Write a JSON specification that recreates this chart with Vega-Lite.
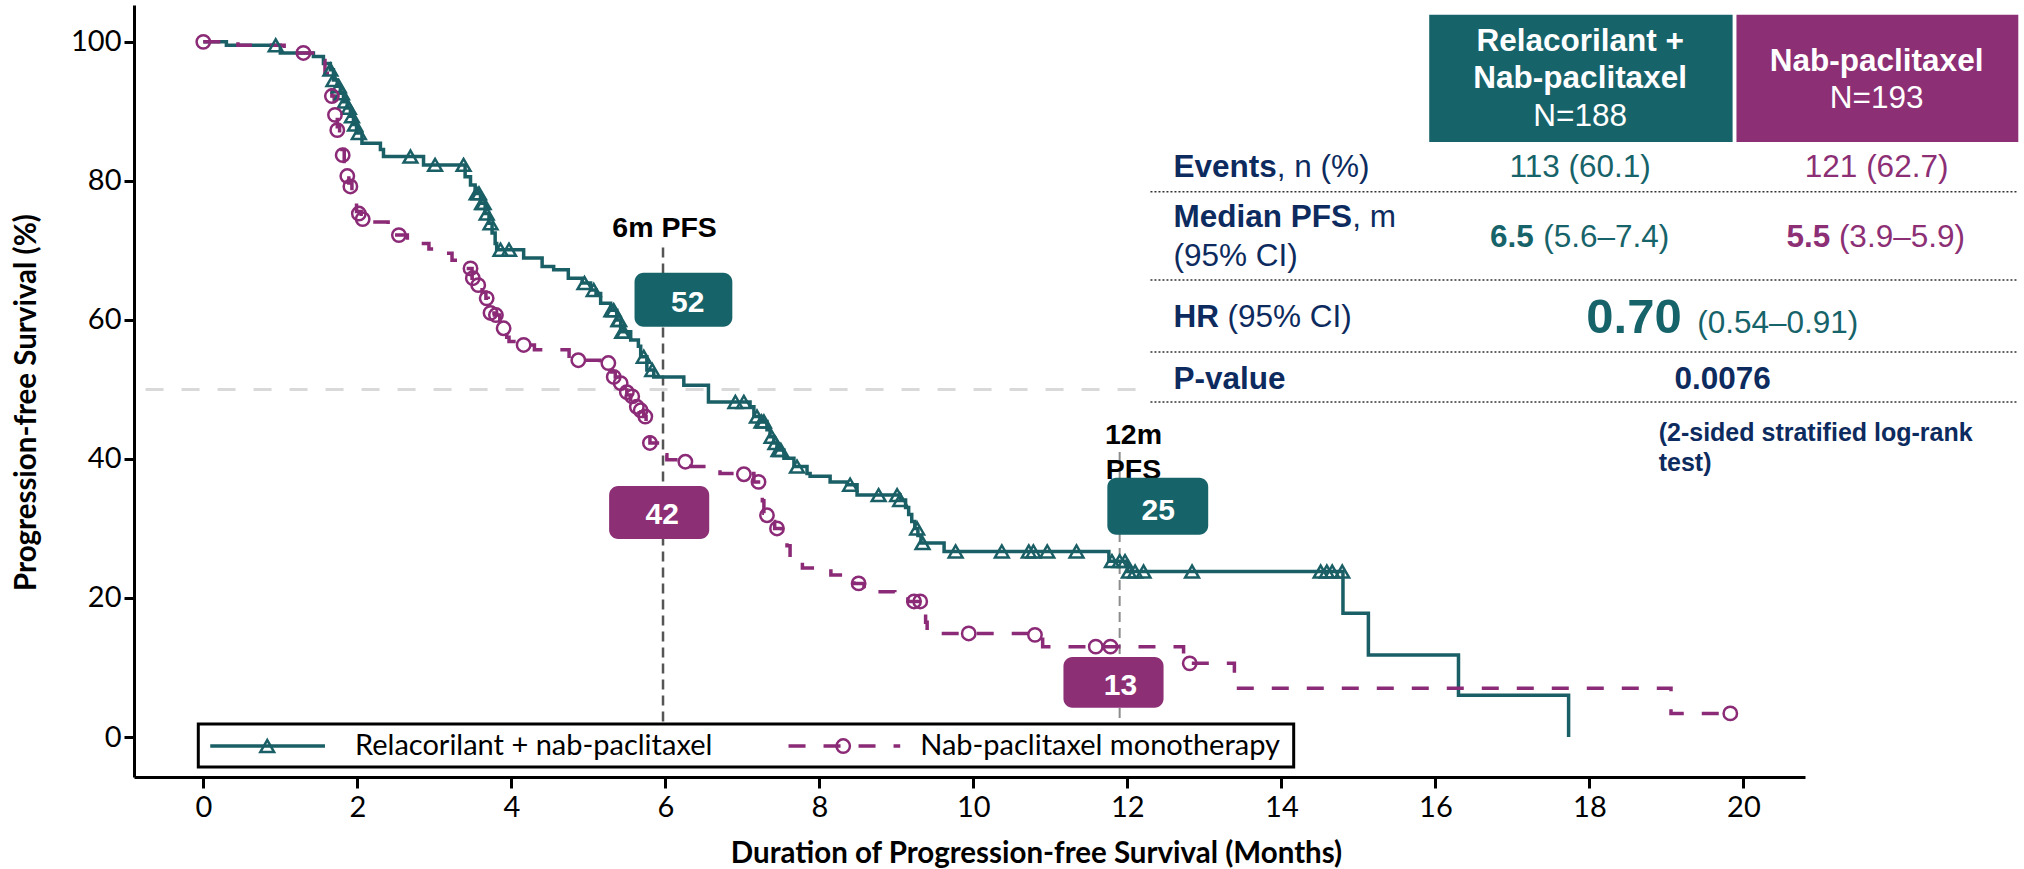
{
  "$schema": "https://vega.github.io/schema/vega-lite/v6.json",
  "width": 1671,
  "height": 772,
  "autosize": {"type": "none"},
  "padding": {"left": 134, "top": 5, "right": 219, "bottom": 92},
  "background": "white",
  "config": {"view": {"stroke": null}, "text": {"font": "Liberation Sans"}},
  "datasets": {
    "teal": [{"t":0,"s":100},{"t":0.30,"s":99.5},{"t":1.00,"s":98.4},{"t":1.43,"s":97.9},{"t":1.56,"s":96.9},{"t":1.65,"s":96.0},{"t":1.69,"s":94.5},{"t":1.74,"s":93.6},{"t":1.78,"s":92.6},{"t":1.82,"s":91.4},{"t":1.87,"s":90.5},{"t":1.91,"s":89.3},{"t":1.95,"s":88.1},{"t":1.99,"s":86.9},{"t":2.06,"s":85.4},{"t":2.30,"s":84.5},{"t":2.34,"s":83.5},{"t":2.86,"s":82.3},{"t":3.40,"s":80.6},{"t":3.47,"s":79.4},{"t":3.53,"s":78.2},{"t":3.60,"s":76.8},{"t":3.66,"s":75.3},{"t":3.71,"s":73.9},{"t":3.75,"s":72.5},{"t":3.79,"s":71.0},{"t":3.81,"s":70.1},{"t":4.16,"s":68.9},{"t":4.40,"s":67.7},{"t":4.55,"s":67.2},{"t":4.74,"s":66.0},{"t":4.92,"s":65.3},{"t":5.03,"s":64.3},{"t":5.10,"s":63.8},{"t":5.16,"s":62.4},{"t":5.29,"s":61.4},{"t":5.37,"s":60.0},{"t":5.42,"s":58.3},{"t":5.55,"s":57.1},{"t":5.65,"s":56.2},{"t":5.68,"s":54.7},{"t":5.76,"s":52.8},{"t":5.85,"s":51.8},{"t":6.24,"s":50.6},{"t":6.56,"s":48.2},{"t":7.10,"s":47.5},{"t":7.15,"s":46.1},{"t":7.23,"s":45.4},{"t":7.32,"s":44.2},{"t":7.36,"s":43.2},{"t":7.41,"s":42.3},{"t":7.45,"s":41.3},{"t":7.54,"s":40.1},{"t":7.67,"s":38.9},{"t":7.84,"s":37.9},{"t":7.88,"s":37.5},{"t":8.14,"s":36.7},{"t":8.36,"s":36.3},{"t":8.49,"s":34.8},{"t":9.05,"s":34.1},{"t":9.12,"s":33.0},{"t":9.16,"s":32.0},{"t":9.20,"s":31.0},{"t":9.24,"s":30.0},{"t":9.28,"s":29.0},{"t":9.32,"s":27.9},{"t":9.62,"s":26.7},{"t":11.76,"s":25.3},{"t":12.00,"s":23.8},{"t":14.80,"s":17.8},{"t":15.13,"s":11.8},{"t":16.30,"s":6.0},{"t":17.73,"s":0}],
    "purple": [{"t":0,"s":100},{"t":0.45,"s":99.5},{"t":1.05,"s":98.4},{"t":1.50,"s":97.3},{"t":1.58,"s":95.5},{"t":1.64,"s":93.5},{"t":1.67,"s":92.2},{"t":1.70,"s":90.5},{"t":1.72,"s":89.5},{"t":1.74,"s":87.8},{"t":1.77,"s":86.5},{"t":1.80,"s":84.5},{"t":1.83,"s":82.8},{"t":1.86,"s":81.2},{"t":1.89,"s":79.7},{"t":1.93,"s":78.2},{"t":1.96,"s":76.8},{"t":1.99,"s":75.6},{"t":2.05,"s":74.5},{"t":2.20,"s":74.1},{"t":2.40,"s":72.2},{"t":2.65,"s":71.0},{"t":2.93,"s":70.2},{"t":3.10,"s":69.6},{"t":3.23,"s":68.6},{"t":3.42,"s":67.4},{"t":3.49,"s":66.0},{"t":3.55,"s":65.0},{"t":3.62,"s":64.0},{"t":3.67,"s":63.1},{"t":3.70,"s":62.0},{"t":3.73,"s":61.0},{"t":3.78,"s":60.7},{"t":3.85,"s":59.5},{"t":3.90,"s":58.8},{"t":3.94,"s":57.5},{"t":3.97,"s":56.9},{"t":4.12,"s":56.4},{"t":4.30,"s":55.7},{"t":4.75,"s":54.2},{"t":5.15,"s":53.8},{"t":5.30,"s":52.5},{"t":5.35,"s":51.8},{"t":5.40,"s":51.0},{"t":5.46,"s":50.2},{"t":5.50,"s":49.2},{"t":5.55,"s":48.5},{"t":5.60,"s":47.5},{"t":5.66,"s":46.8},{"t":5.72,"s":46.1},{"t":5.75,"s":45.0},{"t":5.77,"s":43.8},{"t":5.80,"s":42.3},{"t":5.95,"s":40.6},{"t":6.02,"s":39.9},{"t":6.33,"s":38.9},{"t":6.71,"s":37.9},{"t":7.15,"s":36.7},{"t":7.24,"s":35.5},{"t":7.26,"s":34.0},{"t":7.28,"s":32.2},{"t":7.36,"s":31.0},{"t":7.42,"s":30.0},{"t":7.51,"s":28.8},{"t":7.58,"s":27.5},{"t":7.62,"s":25.7},{"t":7.78,"s":24.3},{"t":8.15,"s":23.3},{"t":8.45,"s":22.1},{"t":8.58,"s":20.9},{"t":8.98,"s":20.4},{"t":9.15,"s":19.5},{"t":9.36,"s":18.0},{"t":9.38,"s":16.5},{"t":9.40,"s":14.9},{"t":10.90,"s":13.0},{"t":12.73,"s":10.6},{"t":13.39,"s":7.0},{"t":19.06,"s":3.4},{"t":19.83,"s":3.4}],
    "tealCens": [{"t":0.94,"s":99.5},{"t":1.65,"s":96.0},{"t":1.69,"s":94.5},{"t":1.76,"s":93.6},{"t":1.80,"s":92.6},{"t":1.84,"s":91.4},{"t":1.89,"s":90.5},{"t":1.93,"s":89.3},{"t":1.97,"s":88.1},{"t":2.02,"s":86.9},{"t":2.69,"s":83.5},{"t":3.01,"s":82.3},{"t":3.38,"s":82.3},{"t":3.55,"s":78.2},{"t":3.58,"s":78.2},{"t":3.62,"s":76.8},{"t":3.64,"s":76.8},{"t":3.68,"s":75.3},{"t":3.73,"s":73.9},{"t":3.86,"s":70.1},{"t":3.97,"s":70.1},{"t":4.95,"s":65.3},{"t":5.07,"s":64.3},{"t":5.30,"s":61.4},{"t":5.33,"s":61.4},{"t":5.39,"s":60.0},{"t":5.40,"s":60.0},{"t":5.44,"s":58.3},{"t":5.46,"s":58.3},{"t":5.72,"s":54.7},{"t":5.83,"s":52.8},{"t":6.91,"s":48.2},{"t":7.02,"s":48.2},{"t":7.19,"s":46.1},{"t":7.25,"s":45.4},{"t":7.28,"s":45.4},{"t":7.38,"s":43.2},{"t":7.43,"s":42.3},{"t":7.47,"s":41.3},{"t":7.50,"s":41.3},{"t":7.71,"s":38.9},{"t":8.40,"s":36.3},{"t":8.77,"s":34.8},{"t":9.01,"s":34.8},{"t":9.05,"s":34.1},{"t":9.27,"s":30.0},{"t":9.34,"s":27.9},{"t":9.77,"s":26.7},{"t":10.37,"s":26.7},{"t":10.72,"s":26.7},{"t":10.78,"s":26.7},{"t":10.96,"s":26.7},{"t":11.34,"s":26.7},{"t":11.80,"s":25.3},{"t":11.90,"s":25.3},{"t":11.97,"s":25.3},{"t":12.02,"s":23.8},{"t":12.10,"s":23.8},{"t":12.21,"s":23.8},{"t":12.84,"s":23.8},{"t":14.51,"s":23.8},{"t":14.59,"s":23.8},{"t":14.66,"s":23.8},{"t":14.79,"s":23.8}],
    "purpleCens": [{"t":0,"s":100},{"t":1.30,"s":98.4},{"t":1.67,"s":92.2},{"t":1.71,"s":89.5},{"t":1.74,"s":87.3},{"t":1.81,"s":83.7},{"t":1.87,"s":80.7},{"t":1.91,"s":79.2},{"t":2.02,"s":75.3},{"t":2.07,"s":74.5},{"t":2.54,"s":72.2},{"t":3.47,"s":67.4},{"t":3.50,"s":66.0},{"t":3.57,"s":65.0},{"t":3.68,"s":63.1},{"t":3.73,"s":61.0},{"t":3.80,"s":60.7},{"t":3.90,"s":58.8},{"t":4.16,"s":56.4},{"t":4.87,"s":54.2},{"t":5.26,"s":53.8},{"t":5.33,"s":51.8},{"t":5.42,"s":50.9},{"t":5.50,"s":49.6},{"t":5.57,"s":49.0},{"t":5.63,"s":47.5},{"t":5.68,"s":47.0},{"t":5.74,"s":46.1},{"t":5.80,"s":42.3},{"t":6.26,"s":39.6},{"t":7.02,"s":37.8},{"t":7.21,"s":36.7},{"t":7.32,"s":31.9},{"t":7.45,"s":30.0},{"t":8.51,"s":22.1},{"t":9.23,"s":19.5},{"t":9.31,"s":19.5},{"t":9.94,"s":14.9},{"t":10.80,"s":14.7},{"t":11.59,"s":13.0},{"t":11.78,"s":13.0},{"t":12.81,"s":10.6},{"t":19.83,"s":3.4}],
    "medianRef": [{"t":-0.75,"t2":12.17,"s":50}],
    "milestoneLines": [{"m":"6m","t":5.97,"s":70.4,"s2":0},{"m":"12m","t":11.9,"s":41,"s2":2}],
    "callBoxes": [{"arm":"R","t":5.60,"t2":6.87,"s":59.0,"s2":66.8},{"arm":"N","t":5.27,"t2":6.57,"s":28.5,"s2":36.1},{"arm":"R","t":11.74,"t2":13.05,"s":29.1,"s2":37.3},{"arm":"N","t":11.17,"t2":12.47,"s":4.2,"s2":11.5}],
    "callLabels": [{"t":6.29,"s":62.4,"label":"52"},{"t":5.96,"s":31.9,"label":"42"},{"t":12.40,"s":32.5,"label":"25"},{"t":11.91,"s":7.3,"label":"13"}],
    "milestoneLabels": [{"t":5.99,"s":73.2,"label":"6m PFS"},{"t":12.08,"s":43.5,"label":"12m"},{"t":12.08,"s":38.4,"label":"PFS"}],
    "headBoxes": [{"arm":"R","t":15.92,"t2":19.86,"s":103.88,"s2":85.61},{"arm":"N","t":19.91,"t2":23.57,"s":103.88,"s2":85.61}],
    "headBold": [{"t":17.88,"s":100.0,"label":"Relacorilant +"},{"t":17.88,"s":94.68,"label":"Nab-paclitaxel"},{"t":21.73,"s":97.12,"label":"Nab-paclitaxel"}],
    "headReg": [{"t":17.88,"s":89.21,"label":"N=188"},{"t":21.73,"s":91.80,"label":"N=193"}],
    "rowBold": [{"t":12.60,"s":81.87,"label":"Events"},{"t":12.60,"s":74.68,"label":"Median PFS"},{"t":12.60,"s":60.29,"label":"HR"},{"t":12.60,"s":51.37,"label":"P-value"}],
    "rowReg": [{"t":13.94,"s":81.87,"label":", n (%)"},{"t":14.92,"s":74.68,"label":", m"},{"t":12.60,"s":69.06,"label":"(95% CI)"},{"t":13.30,"s":60.29,"label":"(95% CI)"}],
    "valCenter": [{"arm":"R","t":17.88,"s":81.87,"label":"113 (60.1)"},{"arm":"N","t":21.73,"s":81.87,"label":"121 (62.7)"}],
    "valBold": [{"arm":"R","t":16.71,"s":71.80,"label":"6.5"},{"arm":"N","t":20.56,"s":71.80,"label":"5.5"}],
    "valReg": [{"arm":"R","t":17.40,"s":71.80,"label":"(5.6–7.4)"},{"arm":"N","t":21.24,"s":71.80,"label":"(3.9–5.9)"}],
    "hrBig": [{"arm":"R","t":17.96,"s":58.13,"label":"0.70"}],
    "hrCI": [{"arm":"R","t":19.40,"s":58.13,"label":"(0.54–0.91)"}],
    "pval": [{"t":19.73,"s":51.37,"label":"0.0076"}],
    "note": [{"t":18.90,"s":43.74,"label":"(2-sided stratified log-rank"},{"t":18.90,"s":39.42,"label":"test)"}],
    "dotted": [{"t":12.30,"t2":23.56,"s":78.42},{"t":12.30,"t2":23.56,"s":65.76},{"t":12.30,"t2":23.56,"s":55.40},{"t":12.30,"t2":23.56,"s":48.20}],
    "legendBox": [{"t":-0.065,"t2":14.16,"s":-4.3,"s2":1.87}],
    "legendLines": [{"arm":"R","t":0.09,"t2":1.58,"s":-1.3},{"arm":"N","t":7.6,"t2":9.05,"s":-1.3}],
    "legendTri": [{"t":0.83,"s":-1.3}],
    "legendCirc": [{"t":8.31,"s":-1.3}],
    "legendText": [{"t":1.97,"s":-1.3,"label":"Relacorilant + nab-paclitaxel"},{"t":9.31,"s":-1.3,"label":"Nab-paclitaxel monotherapy"}]
  },
  "encoding": {
    "x": {"field": "t", "type": "quantitative",
      "scale": {"domain": [-0.9, 20.8], "nice": false, "zero": false},
      "axis": {"values": [0,2,4,6,8,10,12,14,16,18,20], "title": "Duration of Progression-free Survival (Months)", "grid": false,
        "domainColor": "black", "domainWidth": 3, "tickColor": "black", "tickWidth": 3, "tickSize": 11,
        "labelFont": "Lato", "labelFontSize": 29, "labelColor": "black", "labelPadding": 5, "labelFlush": false, "labelOverlap": false,
        "titleFont": "Lato", "titleFontSize": 29.5, "titleFontWeight": "bold", "titleColor": "black",
        "titleX": 902, "titleY": 76, "titleBaseline": "middle", "titleAlign": "center"}},
    "y": {"field": "s", "type": "quantitative",
      "scale": {"domain": [-5.75, 105.3], "nice": false, "zero": false},
      "axis": {"values": [0,20,40,60,80,100], "title": "Progression-free Survival (%)", "grid": false,
        "domainColor": "black", "domainWidth": 3, "tickColor": "black", "tickWidth": 3, "tickSize": 10,
        "labelFont": "Lato", "labelFontSize": 29, "labelColor": "black", "labelPadding": 3, "labelFlush": false, "labelOverlap": false,
        "titleFont": "Lato", "titleFontSize": 29.5, "titleFontWeight": "bold", "titleColor": "black",
        "titleX": -108, "titleY": 397, "titleBaseline": "middle", "titleAlign": "center", "titleAngle": -90}}
  },
  "layer": [
    {"data": {"name": "medianRef"}, "mark": {"type": "rule", "color": "#D9D9D9", "strokeWidth": 3, "strokeDash": [18, 18]},
     "encoding": {"x2": {"field": "t2"}}},
    {"data": {"name": "milestoneLines"}, "transform": [{"filter": "datum.m === '6m'"}],
     "mark": {"type": "rule", "color": "#555555", "strokeWidth": 2.5, "strokeDash": [10, 6]},
     "encoding": {"y2": {"field": "s2"}}},
    {"data": {"name": "milestoneLines"}, "transform": [{"filter": "datum.m === '12m'"}],
     "mark": {"type": "rule", "color": "#8C8C8C", "strokeWidth": 2, "strokeDash": [10, 6]},
     "encoding": {"y2": {"field": "s2"}}},
    {"data": {"name": "teal"}, "mark": {"type": "line", "interpolate": "step-after", "color": "#1A5F65", "strokeWidth": 3.5}},
    {"data": {"name": "purple"}, "mark": {"type": "line", "interpolate": "step-after", "color": "#8B2A76", "strokeWidth": 3.5, "strokeDash": [17, 18]}},
    {"data": {"name": "tealCens"}, "mark": {"type": "point", "shape": "triangle-up", "filled": false, "color": "#1A5F65", "strokeWidth": 2.5, "size": 190, "opacity": 1}},
    {"data": {"name": "purpleCens"}, "mark": {"type": "point", "shape": "circle", "filled": false, "color": "#8B2A76", "strokeWidth": 2.5, "size": 180, "opacity": 1}},
    {"data": {"name": "milestoneLabels"}, "mark": {"type": "text", "font": "Liberation Sans", "fontWeight": "bold", "fontSize": 28.5, "color": "black", "baseline": "middle", "align": "center"},
     "encoding": {"text": {"field": "label"}}},
    {"data": {"name": "callBoxes"}, "mark": {"type": "rect", "cornerRadius": 9},
     "encoding": {"x2": {"field": "t2"}, "y2": {"field": "s2"},
       "color": {"field": "arm", "type": "nominal", "scale": {"domain": ["R", "N"], "range": ["#17636A", "#8C2F75"]}, "legend": null}}},
    {"data": {"name": "callLabels"}, "mark": {"type": "text", "font": "Liberation Sans", "fontWeight": "bold", "fontSize": 30, "color": "white", "baseline": "middle", "align": "center"},
     "encoding": {"text": {"field": "label"}}},
    {"data": {"name": "headBoxes"}, "mark": {"type": "rect"},
     "encoding": {"x2": {"field": "t2"}, "y2": {"field": "s2"},
       "color": {"field": "arm", "type": "nominal", "scale": {"domain": ["R", "N"], "range": ["#17636A", "#8C2F75"]}, "legend": null}}},
    {"data": {"name": "headBold"}, "mark": {"type": "text", "font": "Liberation Sans", "fontWeight": "bold", "fontSize": 31.5, "color": "white", "baseline": "middle", "align": "center"},
     "encoding": {"text": {"field": "label"}}},
    {"data": {"name": "headReg"}, "mark": {"type": "text", "font": "Liberation Sans", "fontSize": 31.5, "color": "white", "baseline": "middle", "align": "center"},
     "encoding": {"text": {"field": "label"}}},
    {"data": {"name": "rowBold"}, "mark": {"type": "text", "font": "Liberation Sans", "fontWeight": "bold", "fontSize": 31.5, "color": "#0D2B5E", "baseline": "middle", "align": "left"},
     "encoding": {"text": {"field": "label"}}},
    {"data": {"name": "rowReg"}, "mark": {"type": "text", "font": "Liberation Sans", "fontSize": 31.5, "color": "#0D2B5E", "baseline": "middle", "align": "left"},
     "encoding": {"text": {"field": "label"}}},
    {"data": {"name": "valCenter"}, "mark": {"type": "text", "font": "Liberation Sans", "fontSize": 31.5, "baseline": "middle", "align": "center"},
     "encoding": {"text": {"field": "label"},
       "color": {"field": "arm", "type": "nominal", "scale": {"domain": ["R", "N"], "range": ["#17636A", "#8C2F75"]}, "legend": null}}},
    {"data": {"name": "valBold"}, "mark": {"type": "text", "font": "Liberation Sans", "fontWeight": "bold", "fontSize": 31.5, "baseline": "middle", "align": "left"},
     "encoding": {"text": {"field": "label"},
       "color": {"field": "arm", "type": "nominal", "scale": {"domain": ["R", "N"], "range": ["#17636A", "#8C2F75"]}, "legend": null}}},
    {"data": {"name": "valReg"}, "mark": {"type": "text", "font": "Liberation Sans", "fontSize": 31.5, "baseline": "middle", "align": "left"},
     "encoding": {"text": {"field": "label"},
       "color": {"field": "arm", "type": "nominal", "scale": {"domain": ["R", "N"], "range": ["#17636A", "#8C2F75"]}, "legend": null}}},
    {"data": {"name": "hrBig"}, "mark": {"type": "text", "font": "Liberation Sans", "fontWeight": "bold", "fontSize": 49, "baseline": "alphabetic", "align": "left"},
     "encoding": {"text": {"field": "label"},
       "color": {"field": "arm", "type": "nominal", "scale": {"domain": ["R", "N"], "range": ["#17636A", "#8C2F75"]}, "legend": null}}},
    {"data": {"name": "hrCI"}, "mark": {"type": "text", "font": "Liberation Sans", "fontSize": 31.5, "baseline": "alphabetic", "align": "left"},
     "encoding": {"text": {"field": "label"},
       "color": {"field": "arm", "type": "nominal", "scale": {"domain": ["R", "N"], "range": ["#17636A", "#8C2F75"]}, "legend": null}}},
    {"data": {"name": "pval"}, "mark": {"type": "text", "font": "Liberation Sans", "fontWeight": "bold", "fontSize": 31.5, "color": "#0D2B5E", "baseline": "middle", "align": "center"},
     "encoding": {"text": {"field": "label"}}},
    {"data": {"name": "note"}, "mark": {"type": "text", "font": "Liberation Sans", "fontWeight": "bold", "fontSize": 25, "color": "#0D2B5E", "baseline": "middle", "align": "left"},
     "encoding": {"text": {"field": "label"}}},
    {"data": {"name": "dotted"}, "mark": {"type": "rule", "color": "#333333", "strokeWidth": 1.5, "strokeDash": [2, 2]},
     "encoding": {"x2": {"field": "t2"}}},
    {"data": {"name": "legendBox"}, "mark": {"type": "rect", "fill": "white", "stroke": "black", "strokeWidth": 3},
     "encoding": {"x2": {"field": "t2"}, "y2": {"field": "s2"}}},
    {"data": {"name": "legendLines"}, "transform": [{"filter": "datum.arm === 'R'"}],
     "mark": {"type": "rule", "color": "#1A5F65", "strokeWidth": 3.5},
     "encoding": {"x2": {"field": "t2"}}},
    {"data": {"name": "legendLines"}, "transform": [{"filter": "datum.arm === 'N'"}],
     "mark": {"type": "rule", "color": "#8B2A76", "strokeWidth": 3.5, "strokeDash": [17, 18]},
     "encoding": {"x2": {"field": "t2"}}},
    {"data": {"name": "legendTri"}, "mark": {"type": "point", "shape": "triangle-up", "filled": false, "color": "#1A5F65", "strokeWidth": 2.5, "size": 190, "opacity": 1}},
    {"data": {"name": "legendCirc"}, "mark": {"type": "point", "shape": "circle", "filled": false, "color": "#8B2A76", "strokeWidth": 2.5, "size": 180, "opacity": 1}},
    {"data": {"name": "legendText"}, "mark": {"type": "text", "font": "Lato", "fontSize": 29, "color": "black", "baseline": "middle", "align": "left"},
     "encoding": {"text": {"field": "label"}}}
  ]
}
